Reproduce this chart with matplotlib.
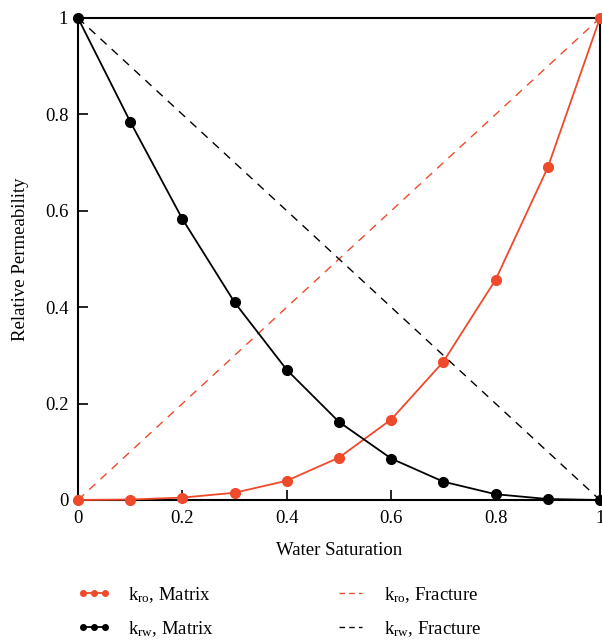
import matplotlib
matplotlib.use("Agg")
import matplotlib.pyplot as plt
from matplotlib.lines import Line2D

plt.rcParams['font.family'] = ['Liberation Serif', 'DejaVu Serif']
plt.rcParams['mathtext.default'] = 'regular'

# ----- Data -----
sw = [0.0, 0.1, 0.2, 0.3, 0.4, 0.5, 0.6, 0.7, 0.8, 0.9, 1.0]
kro_matrix = [0.0, 0.001, 0.005, 0.015, 0.04, 0.088, 0.167, 0.287, 0.457, 0.69, 1.0]
krw_matrix = [1.0, 0.785, 0.583, 0.41, 0.27, 0.162, 0.086, 0.038, 0.012, 0.002, 0.0]
sw_frac = [0.0, 1.0]
kro_fracture = [0.0, 1.0]
krw_fracture = [1.0, 0.0]
ticks = [0, 0.2, 0.4, 0.6, 0.8, 1]
tick_labels = ['0', '0.2', '0.4', '0.6', '0.8', '1']

red = '#EE4A2B'
fs = 13.5

fig = plt.figure(figsize=(6.02, 6.41), dpi=100)
ax = fig.add_axes([78 / 602, 141 / 641, 522 / 602, 482 / 641])

ax.plot(sw_frac, kro_fracture, color=red, lw=1.0, dashes=(6, 5))
ax.plot(sw_frac, krw_fracture, color='black', lw=1.0, dashes=(6, 5))
ax.plot(sw, kro_matrix, color=red, lw=1.3, marker='o', ms=7, clip_on=False, zorder=3)
ax.plot(sw, krw_matrix, color='black', lw=1.3, marker='o', ms=7, clip_on=False, zorder=3)

ax.set_xlim(0, 1)
ax.set_ylim(0, 1)
ax.set_xticks(ticks)
ax.set_xticklabels(tick_labels)
ax.set_yticks(ticks)
ax.set_yticklabels(tick_labels)
ax.tick_params(direction='in', length=7, width=1.2, labelsize=fs, pad=7)
for s in ax.spines.values():
    s.set_linewidth(1.5)

ax.set_xlabel('Water Saturation', fontsize=fs, labelpad=11)
ax.set_ylabel('Relative Permeability', fontsize=fs, labelpad=11)

# legend handles
handles = [
    Line2D([], [], color=red, lw=1.3, marker='o', ms=4),
    Line2D([], [], color='black', lw=1.3, marker='o', ms=4),
    Line2D([], [], color=red, lw=1.0, dashes=(4, 3)),
    Line2D([], [], color='black', lw=1.0, dashes=(4, 3)),
]
labels = [r'k$_{ro}$, Matrix', r'k$_{rw}$, Matrix',
          r'k$_{ro}$, Fracture', r'k$_{rw}$, Fracture']
fig.legend(handles, labels, ncol=2, frameon=False, fontsize=fs,
           numpoints=3, handlelength=1.8, handletextpad=0.9, columnspacing=6.4,
           loc='upper left', bbox_to_anchor=(60 / 602, 1 - 568 / 641),
           labelspacing=0.75)

fig.savefig('out.png', dpi=100)
